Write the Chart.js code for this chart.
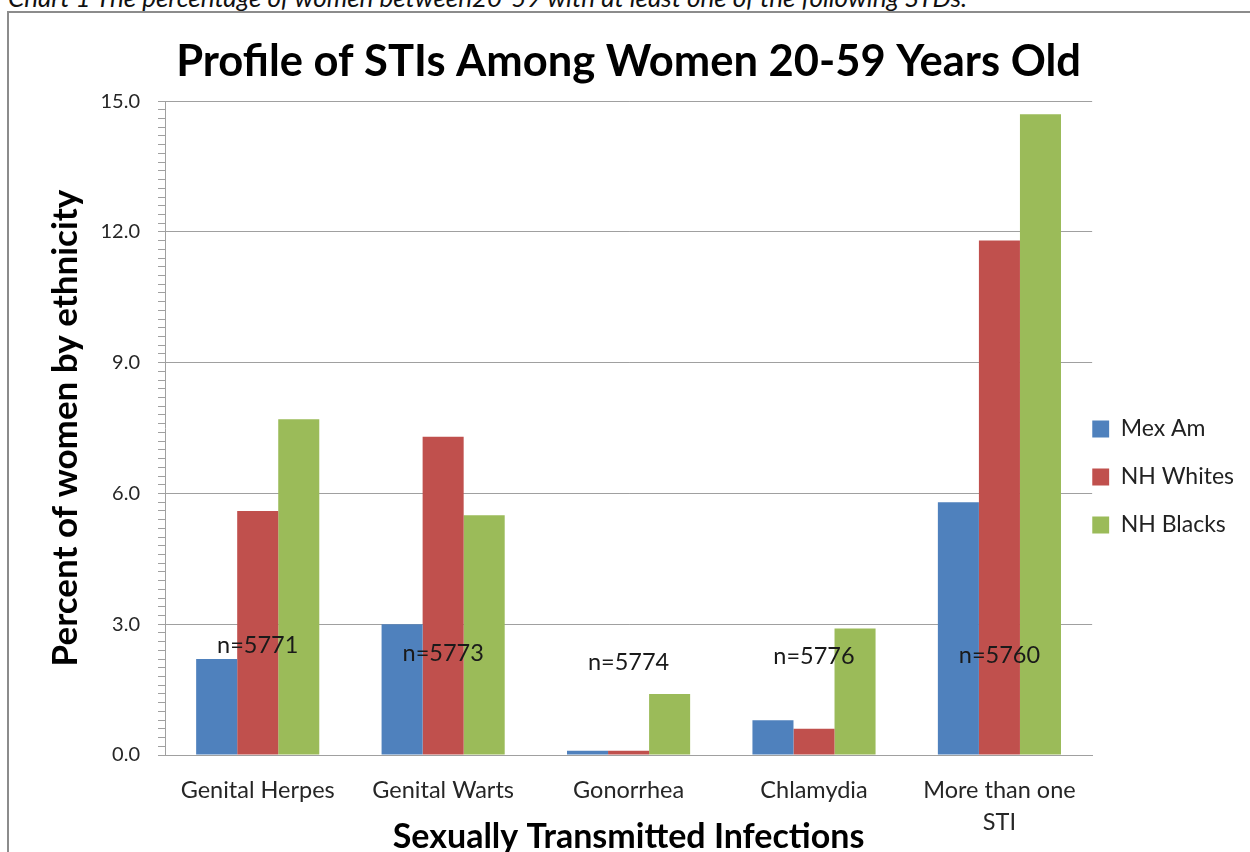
<!DOCTYPE html>
<html>
<head>
<meta charset="utf-8">
<script src="https://cdn.jsdelivr.net/npm/chart.js@4.4.0/dist/chart.umd.min.js"></script>
<style>
  html, body { margin: 0; padding: 0; background: #fff; overflow: hidden; }
  body { width: 1250px; height: 852px; position: relative; }
  #caption { position: absolute; left: 8px; top: -16px; font: italic 26px Lato, sans-serif; line-height: 26px; color: #111; white-space: nowrap; }
  #frame { position: absolute; left: 7px; top: 11px; width: 1300px; height: 900px; border-left: 2px solid #8c8c8c; border-top: 2px solid #8c8c8c; pointer-events: none; }
  #wrap { position: absolute; left: 0; top: 0; width: 1250px; height: 852px; }
</style>
</head>
<body>
<div id="caption">Chart 1 The percentage of women between20-59 with at least one of the following STDs.</div>
<div id="wrap"><canvas id="c" width="1250" height="852"></canvas></div>
<div id="frame"></div>
<script>
const categories = ['Genital Herpes', 'Genital Warts', 'Gonorrhea', 'Chlamydia', ['More than one', 'STI']];
const seriesNames = ['Mex Am', 'NH Whites', 'NH Blacks'];
const mexAm = [2.2, 3.0, 0.1, 0.8, 5.8];
const nhWhites = [5.6, 7.3, 0.1, 0.6, 11.8];
const nhBlacks = [7.7, 5.5, 1.4, 2.9, 14.7];
const sampleLabels = ['n=5771', 'n=5773', 'n=5774', 'n=5776', 'n=5760'];
const sampleLabelY = [2.52, 2.32, 2.13, 2.27, 2.29];
const yMin = 0, yMax = 15, yMajorStep = 3, yMinorStep = 0.2;

const FONT = 'Lato, "Open Sans", sans-serif';
const isMajor = v => Math.abs(v / yMajorStep - Math.round(v / yMajorStep)) < 1e-6;

const sampleLabelPlugin = {
  id: 'sampleLabels',
  afterDatasetsDraw(chart) {
    const {ctx, scales: {x, y}} = chart;
    ctx.save();
    ctx.font = '23.5px ' + FONT;
    ctx.fillStyle = '#1a1a1a';
    ctx.textAlign = 'center';
    ctx.textBaseline = 'middle';
    sampleLabels.forEach((t, i) => {
      ctx.fillText(t, x.getPixelForValue(i), y.getPixelForValue(sampleLabelY[i]));
    });
    ctx.restore();
  }
};

new Chart(document.getElementById('c'), {
  type: 'bar',
  data: {
    labels: categories,
    datasets: [
      { label: seriesNames[0], data: mexAm, backgroundColor: '#4F81BD' },
      { label: seriesNames[1], data: nhWhites, backgroundColor: '#C0504D' },
      { label: seriesNames[2], data: nhBlacks, backgroundColor: '#9BBB59' }
    ]
  },
  options: {
    responsive: false,
    animation: false,
    layout: { padding: { left: 0, right: 6, top: 0, bottom: 0 } },
    datasets: { bar: { categoryPercentage: 0.664, barPercentage: 1.0, borderWidth: 0 } },
    plugins: {
      tooltip: { enabled: false },
      title: {
        display: true,
        fullSize: false,
        text: 'Profile of STIs Among Women 20-59 Years Old',
        font: { family: FONT, size: 43.5, weight: 'bold', lineHeight: 1.2 },
        color: '#000',
        padding: { top: 35.9, bottom: 13 }
      },
      legend: {
        position: 'right',
        fullSize: false,
        title: { display: true, text: '', font: { size: 12, lineHeight: 1.2 }, padding: { top: 108.6, bottom: 0 } },
        labels: {
          boxWidth: 17,
          boxHeight: 17,
          padding: 0,
          color: '#222',
          font: { family: FONT, size: 23, lineHeight: 48 / 23 },
          generateLabels: (chart) => Chart.defaults.plugins.legend.labels.generateLabels(chart).map(l => Object.assign({}, l, { text: [l.text], lineWidth: 0 }))
        }
      }
    },
    scales: {
      x: {
        afterFit: (scale) => { scale.height = 97; },
        grid: { display: false, drawTicks: false },
        border: { display: true, color: '#a0a0a0' },
        ticks: { color: '#262626', font: { family: FONT, size: 23.5, lineHeight: 32 / 23.5 }, padding: 19, maxRotation: 0, autoSkip: false },
        title: {
          display: true,
          text: 'Sexually Transmitted Infections',
          color: '#000',
          font: { family: FONT, size: 34, weight: 'bold', lineHeight: 1.2 },
          padding: { top: 0, bottom: -5 }
        }
      },
      y: {
        min: yMin,
        max: yMax,
        afterFit: (scale) => { scale.width = 165; },
        ticks: {
          stepSize: yMinorStep,
          autoSkip: false,
          color: '#262626',
          font: { family: FONT, size: 20 },
          padding: 18,
          callback: (v) => isMajor(v) ? Math.round(v).toFixed(1) : ''
        },
        grid: {
          color: (ctx) => isMajor(ctx.tick.value) ? '#a0a0a0' : 'rgba(0,0,0,0)',
          tickColor: '#a0a0a0',
          tickLength: 7,
          lineWidth: 1
        },
        border: { display: true, color: '#a0a0a0' },
        title: {
          display: true,
          text: 'Percent of women by ethnicity',
          color: '#000',
          font: { family: FONT, size: 35, weight: 'bold', lineHeight: 1.2 },
          padding: { top: 45, bottom: 0 }
        }
      }
    }
  },
  plugins: [sampleLabelPlugin]
});
</script>
</body>
</html>
